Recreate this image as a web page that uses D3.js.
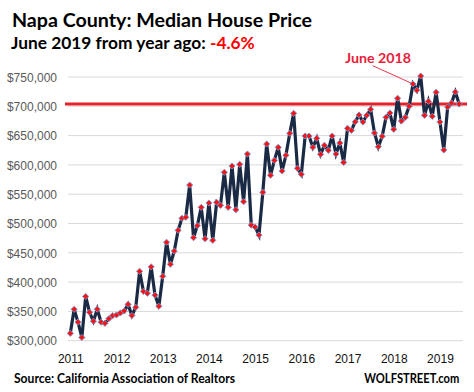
<!DOCTYPE html>
<html>
<head>
<meta charset="utf-8">
<script src="https://cdn.jsdelivr.net/npm/d3@7"></script>
<style>
  html, body { margin: 0; padding: 0; background: #fff; }
  svg { display: block; }
</style>
</head>
<body>
<svg id="chart" width="474" height="392"></svg>
<script>
// ---- Data ----
const startYear = 2011;
const yearTicks = [2011, 2012, 2013, 2014, 2015, 2016, 2017, 2018, 2019];
const priceTicks = [300000, 350000, 400000, 450000, 500000, 550000, 600000, 650000, 700000, 750000];
// Monthly median house price, Jan 2011 .. Jun 2019
const prices = [
  312600, 353600, 331600, 305500, 375500, 348500, 333300, 353800, 331500, 329700, 337500, 342700,
  343900, 347300, 350700, 362000, 343000, 357000, 418400, 384000, 381000, 426000, 377800, 358700,
  410000, 468000, 430500, 453000, 488400, 508900, 510600, 565700, 475800, 496300, 527600, 474000,
  535000, 471300, 536200, 531000, 587400, 527600, 598100, 523500, 601000, 537200, 618600, 497200,
  494000, 480200, 553200, 635700, 582300, 607800, 630000, 589600, 616400, 653900, 688000, 594200,
  584000, 649300, 649300, 630000, 645400, 618100, 633400, 624900, 649300, 618600, 637400, 604200,
  662400, 659000, 673500, 685200, 673200, 684600, 694900, 654400, 631000, 648800, 681200, 688500,
  660700, 713700, 674900, 681200, 700000, 738000, 727300, 751700, 684600, 708500, 682900, 723900,
  673200, 625400, 698800, 705600, 724400, 704000
];
const annotationIndex = 89;          // June 2018
const referenceValue = prices[prices.length - 1];  // June 2019 level (red line)
const titleText = "Napa County: Median House Price";
const subtitleText = "June 2019 from year ago: ";
const changeText = "-4.6%";
const annotationText = "June 2018";
const sourceText = "Source: California Association of Realtors";
const brandText = "WOLFSTREET.com";

// ---- Chart ----
const svg = d3.select("#chart");
svg.append("rect").attr("width", 474).attr("height", 392).attr("fill", "#fff");

const x = d3.scaleLinear().domain([0, prices.length - 1]).range([70.3, 459.2]);
const y = d3.scaleLinear().domain([300000, 750000]).range([340.7, 77.0]);
const plotLeft = 68, plotRight = 463;

// gridlines
svg.append("g").selectAll("line").data(priceTicks).join("line")
  .attr("x1", plotLeft).attr("x2", plotRight)
  .attr("y1", d => y(d)).attr("y2", d => y(d))
  .attr("stroke", "#d9d9d9").attr("stroke-width", 1);

// y axis labels
const fmt = d3.format("$,");
const yAxis = d3.axisLeft(y).tickValues(priceTicks).tickFormat(d => fmt(d)).tickSize(0).tickPadding(0);
const yG = svg.append("g").attr("transform", "translate(57,0)").call(yAxis);
yG.select(".domain").remove();
yG.selectAll("text")
  .attr("font-family", "Liberation Sans, Arial, sans-serif")
  .attr("font-size", 12).attr("fill", "#595959").attr("dy", "0.35em");

// x axis labels
const xAxis = d3.axisBottom(x)
  .tickValues(yearTicks.map(yr => (yr - startYear) * 12))
  .tickFormat(d => String(startYear + d / 12)).tickSize(0).tickPadding(0);
const xG = svg.append("g").attr("transform", "translate(0,354)").call(xAxis);
xG.select(".domain").remove();
xG.selectAll("text")
  .attr("font-family", "Liberation Sans, Arial, sans-serif")
  .attr("font-size", 12).attr("fill", "#111").attr("dy", "0.71em");

// reference red line
svg.append("line")
  .attr("x1", 65).attr("x2", 467)
  .attr("y1", y(referenceValue)).attr("y2", y(referenceValue))
  .attr("stroke", "#e8202a").attr("stroke-width", 3);

// data line
const line = d3.line().x((d, i) => x(i)).y(d => y(d));
svg.append("path").datum(prices)
  .attr("d", line).attr("fill", "none")
  .attr("stroke", "#1a2a44").attr("stroke-width", 3.2)
  .attr("stroke-linejoin", "miter").attr("stroke-miterlimit", 4);

// markers (red diamonds)
svg.append("g").selectAll("path").data(prices).join("path")
  .attr("d", d3.symbol().type(d3.symbolSquare).size(19))
  .attr("transform", (d, i) => `translate(${x(i)},${y(d)}) rotate(45)`)
  .attr("fill", "#ff1010").attr("stroke", "#7d93c8").attr("stroke-width", 0.9);

// Titles
const titleFont = "Lato, 'Open Sans', Arial, sans-serif";
svg.append("text").attr("x", 12).attr("y", 27)
  .attr("font-family", titleFont).attr("font-weight", 700).attr("font-size", 18)
  .attr("fill", "#000").attr("textLength", 300).attr("lengthAdjust", "spacingAndGlyphs")
  .text(titleText);

const sub = svg.append("text").attr("x", 11).attr("y", 49)
  .attr("font-family", titleFont).attr("font-weight", 700).attr("font-size", 16)
  .attr("fill", "#000");
sub.append("tspan").text(subtitleText);
sub.append("tspan").attr("fill", "#ff0000").text(changeText);
// fit subtitle width
(function () {
  const w = sub.node().getComputedTextLength();
  const target = 244;
  if (w > 0) sub.attr("font-size", 16 * target / w);
})();

// annotation
svg.append("text").attr("x", 345).attr("y", 62.7)
  .attr("font-family", titleFont).attr("font-weight", 700).attr("font-size", 14)
  .attr("fill", "#e8203a").attr("textLength", 66).attr("lengthAdjust", "spacingAndGlyphs")
  .text(annotationText);
svg.append("line")
  .attr("x1", 372.7).attr("y1", 65.7)
  .attr("x2", x(annotationIndex) - 2).attr("y2", y(prices[annotationIndex]) - 1)
  .attr("stroke", "#e8203a").attr("stroke-width", 0.9);

// footer
svg.append("text").attr("x", 14).attr("y", 382.7)
  .attr("font-family", titleFont).attr("font-weight", 700).attr("font-size", 12.5)
  .attr("fill", "#000").attr("textLength", 221).attr("lengthAdjust", "spacingAndGlyphs")
  .text(sourceText);
svg.append("text").attr("x", 459.3).attr("y", 382.7).attr("text-anchor", "end")
  .attr("font-family", titleFont).attr("font-weight", 700).attr("font-size", 12.5)
  .attr("fill", "#000").attr("textLength", 95).attr("lengthAdjust", "spacingAndGlyphs")
  .text(brandText);
</script>
</body>
</html>
